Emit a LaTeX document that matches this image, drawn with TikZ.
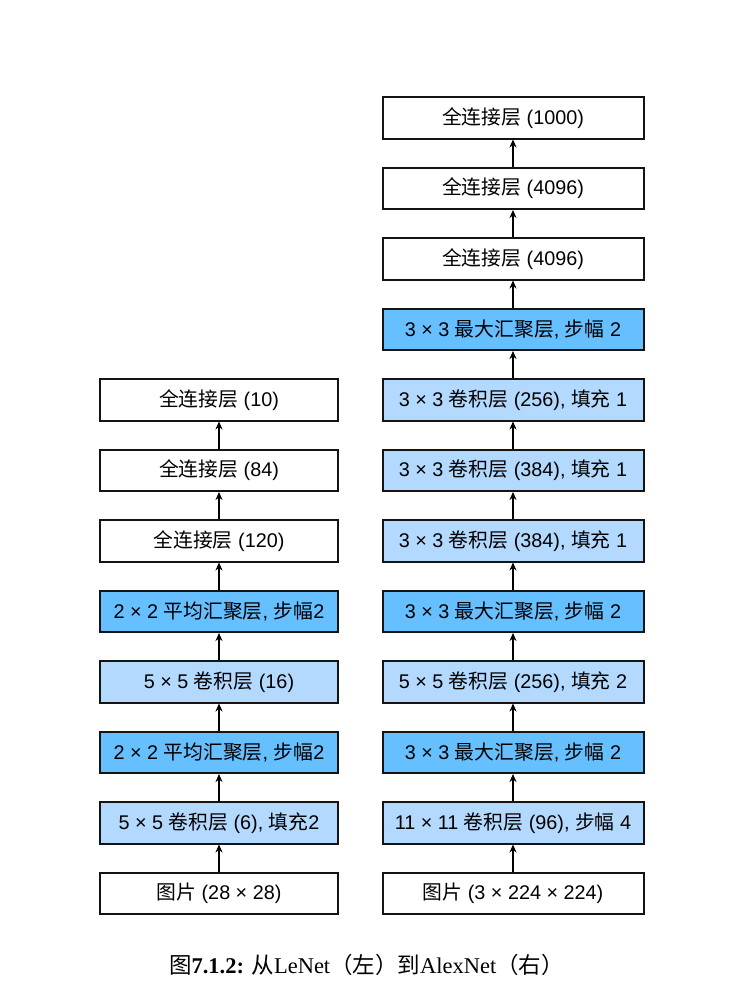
\documentclass[tikz,border=0pt]{standalone}
\usepackage{fontspec}
\setmainfont{Liberation Sans}
\newfontfamily\cjk{Noto Sans CJK SC}
\newfontfamily\capfont{Liberation Serif}
\usetikzlibrary{arrows.meta}
\definecolor{poolblue}{RGB}{102,191,255}
\definecolor{convblue}{RGB}{179,217,255}
\definecolor{edge}{RGB}{20,20,20}
\newcommand{\zh}[1]{{\cjk #1}}
\tikzset{
  layer/.style={draw=edge, line width=2pt, minimum height=41.5pt, inner sep=0pt,
    font=\fontsize{19.8}{23}\selectfont, anchor=center},
  lbox/.style={layer, minimum width=238.5pt},
  rbox/.style={layer, minimum width=261pt},
  fc/.style={fill=white},
  conv/.style={fill=convblue},
  pool/.style={fill=poolblue},
  flow/.style={line width=2pt, draw=black, -{Stealth[length=8pt,width=7pt]}}
}
\begin{document}
\begin{tikzpicture}[x=1pt,y=-1pt]
\useasboundingbox (0,0) rectangle (748,996);
% LeNet column
\node[lbox,fc]   (l1) at (219,893.25) {\zh{图片} (28 × 28)};
\node[lbox,conv] (l2) at (219,822.75) {5 × 5 \zh{卷积层} (6), \zh{填充}2};
\node[lbox,pool] (l3) at (219,752.25) {2 × 2 \zh{平均汇聚层}, \zh{步幅}2};
\node[lbox,conv] (l4) at (219,681.75) {5 × 5 \zh{卷积层} (16)};
\node[lbox,pool] (l5) at (219,611.25) {2 × 2 \zh{平均汇聚层}, \zh{步幅}2};
\node[lbox,fc]   (l6) at (219,540.75) {\zh{全连接层} (120)};
\node[lbox,fc]   (l7) at (219,470.25) {\zh{全连接层} (84)};
\node[lbox,fc]   (l8) at (219,399.75) {\zh{全连接层} (10)};
% AlexNet column
\node[rbox,fc]   (r1)  at (513,893.25) {\zh{图片} (3 × 224 × 224)};
\node[rbox,conv] (r2)  at (513,822.75) {11 × 11 \zh{卷积层} (96), \zh{步幅} 4};
\node[rbox,pool] (r3)  at (513,752.25) {3 × 3 \zh{最大汇聚层}, \zh{步幅} 2};
\node[rbox,conv] (r4)  at (513,681.75) {5 × 5 \zh{卷积层} (256), \zh{填充} 2};
\node[rbox,pool] (r5)  at (513,611.25) {3 × 3 \zh{最大汇聚层}, \zh{步幅} 2};
\node[rbox,conv] (r6)  at (513,540.75) {3 × 3 \zh{卷积层} (384), \zh{填充} 1};
\node[rbox,conv] (r7)  at (513,470.25) {3 × 3 \zh{卷积层} (384), \zh{填充} 1};
\node[rbox,conv] (r8)  at (513,399.75) {3 × 3 \zh{卷积层} (256), \zh{填充} 1};
\node[rbox,pool] (r9)  at (513,329.25) {3 × 3 \zh{最大汇聚层}, \zh{步幅} 2};
\node[rbox,fc]   (r10) at (513,258.75) {\zh{全连接层} (4096)};
\node[rbox,fc]   (r11) at (513,188.25) {\zh{全连接层} (4096)};
\node[rbox,fc]   (r12) at (513,117.75) {\zh{全连接层} (1000)};
% data flow
\foreach \a/\b in {l1/l2,l2/l3,l3/l4,l4/l5,l5/l6,l6/l7,l7/l8}
  \draw[flow] (\a.north) -- (\b.south);
\foreach \a/\b in {r1/r2,r2/r3,r3/r4,r4/r5,r5/r6,r6/r7,r7/r8,r8/r9,r9/r10,r10/r11,r11/r12}
  \draw[flow] (\a.north) -- (\b.south);
% caption
\node[font=\fontsize{22.5}{26}\selectfont] (cap) at (366.5,965)
  {\zh{图}\capfont\bfseries 7.1.2:\mdseries{} \zh{从}LeNet\zh{（左）到}AlexNet\zh{（右）}};
\end{tikzpicture}
\end{document}
